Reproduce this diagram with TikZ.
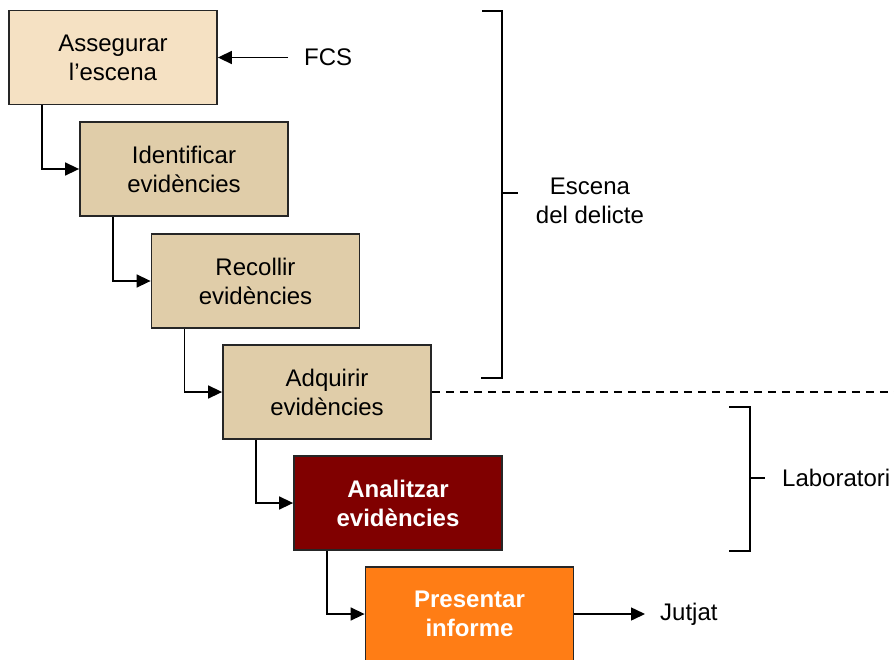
\documentclass[tikz,border=0pt]{standalone}
\usepackage{fontspec}
\setmainfont{Liberation Sans}
\usetikzlibrary{arrows.meta}
\definecolor{boxA}{HTML}{F5E1C3}
\definecolor{boxB}{HTML}{E0CDA9}
\definecolor{boxC}{HTML}{800000}
\definecolor{boxD}{HTML}{FF7D15}
\begin{document}
\begin{tikzpicture}[x=1pt,y=-1pt,
  box/.style={draw=black!85, line width=1.8pt, minimum width=208pt, minimum height=94pt,
    align=center, font=\fontsize{24}{29}\selectfont, inner sep=0pt},
  hbox/.style={box, text=white, font=\fontsize{24}{29}\selectfont\bfseries},
  lbl/.style={font=\fontsize{24}{29}\selectfont, align=center, inner sep=0pt},
  arr/.style={line width=1.5pt, -{Triangle[length=14pt,width=13pt]}},
  brk/.style={line width=1.8pt}]
\useasboundingbox (0,0) rectangle (894,659);
\node[box, fill=boxA] (b1) at (113,57.5) {Assegurar\\l’escena};
\node[box, fill=boxB] (b2) at (184,169) {Identificar\\evidències};
\node[box, fill=boxB] (b3) at (255.5,281) {Recollir\\evidències};
\node[box, fill=boxB] (b4) at (327,392) {Adquirir\\evidències};
\node[hbox, fill=boxC] (b5) at (398,503) {Analitzar\\evidències};
\node[hbox, fill=boxD] (b6) at (469.5,614) {Presentar\\informe};
\draw[arr] ([xshift=-71pt]b1.south) |- (b2.west);
\draw[arr] ([xshift=-71pt]b2.south) |- (b3.west);
\draw[arr] ([xshift=-71pt]b3.south) |- (b4.west);
\draw[arr] ([xshift=-71pt]b4.south) |- (b5.west);
\draw[arr] ([xshift=-71pt]b5.south) |- (b6.west);
\node[lbl, anchor=west, inner xsep=16pt] (fcs) at (288,57.5) {FCS};
\draw[arr] (fcs.west) -- (b1.east);
\node[lbl, anchor=west, inner xsep=15pt] (jut) at (645,614) {Jutjat};
\draw[arr] (b6.east) -- (b6.east -| jut.west);
\draw[brk] (482,11) -| (502,378) -- (481,378);
\coordinate (t1) at (502,193);
\coordinate (t1e) at (518,193);
\draw[brk] (t1) -- (t1e);
\node[lbl] (esc) at (590,201) {Escena\\del delicte};
\draw[line width=1.5pt, dash pattern=on 8pt off 6pt] (b4.east) -- (894,392);
\draw[brk] (729,407) -| (750,551) -- (729,551);
\coordinate (t2) at (750,478);
\coordinate (t2e) at (765,478);
\draw[brk] (t2) -- (t2e);
\node[lbl, anchor=west] (lab) at (782,478) {Laboratori};
\end{tikzpicture}
\end{document}
